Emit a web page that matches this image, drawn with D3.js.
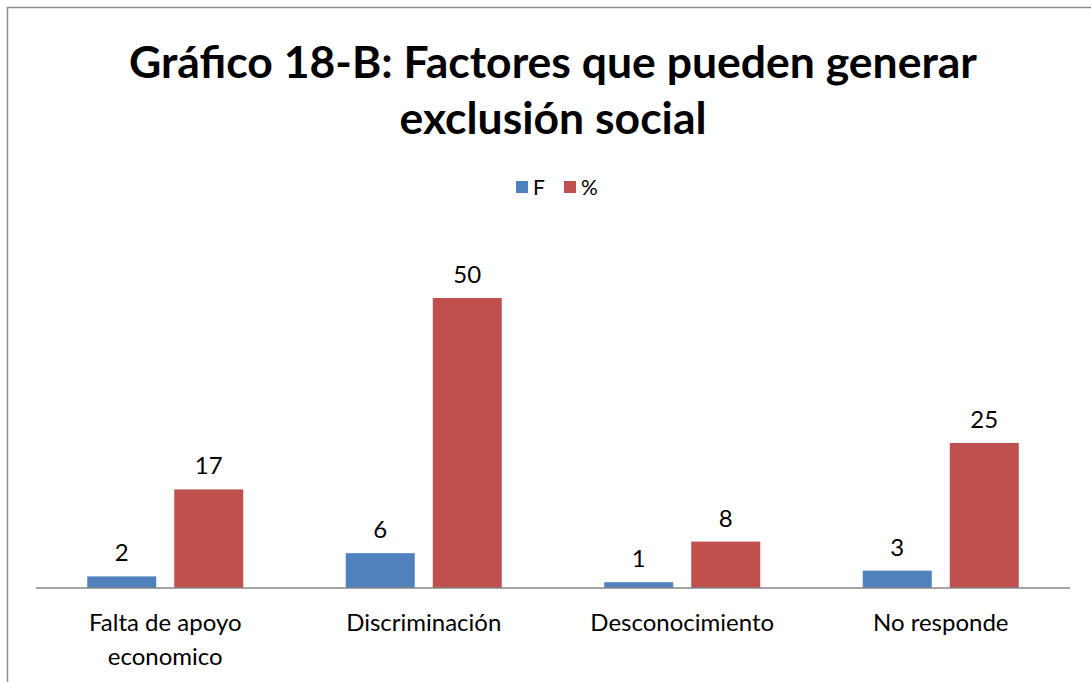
<!DOCTYPE html>
<html lang="es">
<head>
  <meta charset="UTF-8">
  <title>Gráfico 18-B</title>
  <script src="https://d3js.org/d3.v7.min.js"></script>
  <style>
    html, body { margin: 0; padding: 0; background: #fff; }
    svg { display: block; }
    text { font-family: Lato, "Open Sans", sans-serif; fill: #000; }
  </style>
</head>
<body>
<script>
var categories = ["Falta de apoyo economico", "Discriminación", "Desconocimiento", "No responde"];
var seriesNames = ["F", "%"];
var valuesF = [2, 6, 1, 3];
var valuesPct = [17, 50, 8, 25];
var colors = ["#4f81bd", "#c0504d"];

var width = 1091, height = 682;
var svg = d3.select("body").append("svg")
    .attr("width", width)
    .attr("height", height);

// marco del grafico
svg.append("path")
    .attr("d", "M7.5," + height + "V7.5H" + width)
    .attr("fill", "none")
    .attr("stroke", "#8c8c8c")
    .attr("stroke-width", 1.5);

// titulo
var title = svg.append("text")
    .attr("text-anchor", "middle")
    .style("font-weight", "bold")
    .style("font-size", "44.5px");
title.append("tspan").attr("x", 553).attr("y", 78).text("Gráfico 18-B: Factores que pueden generar");
title.append("tspan").attr("x", 553).attr("y", 134).text("exclusión social");

// leyenda
var legend = svg.append("g").attr("transform", "translate(516,187)");
var li = legend.selectAll("g").data(seriesNames).enter().append("g")
    .attr("transform", function(d, i) { return "translate(" + (i * 48) + ",0)"; });
li.append("rect")
    .attr("x", 0).attr("y", -6)
    .attr("width", 12).attr("height", 12)
    .attr("fill", function(d, i) { return colors[i]; });
li.append("text")
    .attr("x", 17).attr("dy", "0.36em")
    .style("font-size", "21px")
    .text(function(d) { return d; });

var data = categories.map(function(c, i) {
  return { cat: c, vals: [valuesF[i], valuesPct[i]] };
});

// ancho total de barras ~156px centrado en cada banda
var groupW = 156, step = (1070 - 36) / categories.length;
var x0 = d3.scaleBand()
    .domain(categories)
    .range([36, 1070])
    .paddingInner(1 - groupW / step)
    .paddingOuter((1 - groupW / step) / 2);

var x1 = d3.scaleBand()
    .domain(d3.range(seriesNames.length))
    .range([0, x0.bandwidth()])
    .paddingInner(0.207);

var y = d3.scaleLinear()
    .domain([0, 60])
    .range([588, 240]);

var groups = svg.selectAll("g.grp").data(data).enter().append("g")
    .attr("class", "grp")
    .attr("transform", function(d) { return "translate(" + x0(d.cat) + ",0)"; });

groups.selectAll("rect").data(function(d) { return d.vals; }).enter().append("rect")
    .attr("x", function(d, i) { return x1(i); })
    .attr("y", function(d) { return y(d); })
    .attr("width", x1.bandwidth())
    .attr("height", function(d) { return y(0) - y(d); })
    .attr("fill", function(d, i) { return colors[i]; });

groups.selectAll("text.val").data(function(d) { return d.vals; }).enter().append("text")
    .attr("class", "val")
    .attr("text-anchor", "middle")
    .attr("x", function(d, i) { return x1(i) + x1.bandwidth() / 2; })
    .attr("y", function(d) { return y(d) - 15; })
    .style("font-size", "24px")
    .text(function(d) { return d; });

// eje x
var xAxis = svg.append("g")
    .attr("transform", "translate(0,588)")
    .call(d3.axisBottom(x0).tickSize(0).tickPadding(0));
xAxis.select(".domain").attr("stroke", "#868686").attr("stroke-width", 1.5)
    .attr("d", "M36,0H1070");
xAxis.selectAll(".tick text").remove();
xAxis.selectAll(".tick").each(function(d) {
  var t = d3.select(this).append("text")
      .attr("text-anchor", "middle")
      .attr("fill", "#000")
      .style("font-size", "24px")
      .style("font-family", "Lato, 'Open Sans', sans-serif");
  var lines = d === "Falta de apoyo economico" ? ["Falta de apoyo", "economico"] : [d];
  lines.forEach(function(l, k) {
    t.append("tspan").attr("x", 0).attr("y", 43 + k * 34).text(l);
  });
});
</script>
</body>
</html>
